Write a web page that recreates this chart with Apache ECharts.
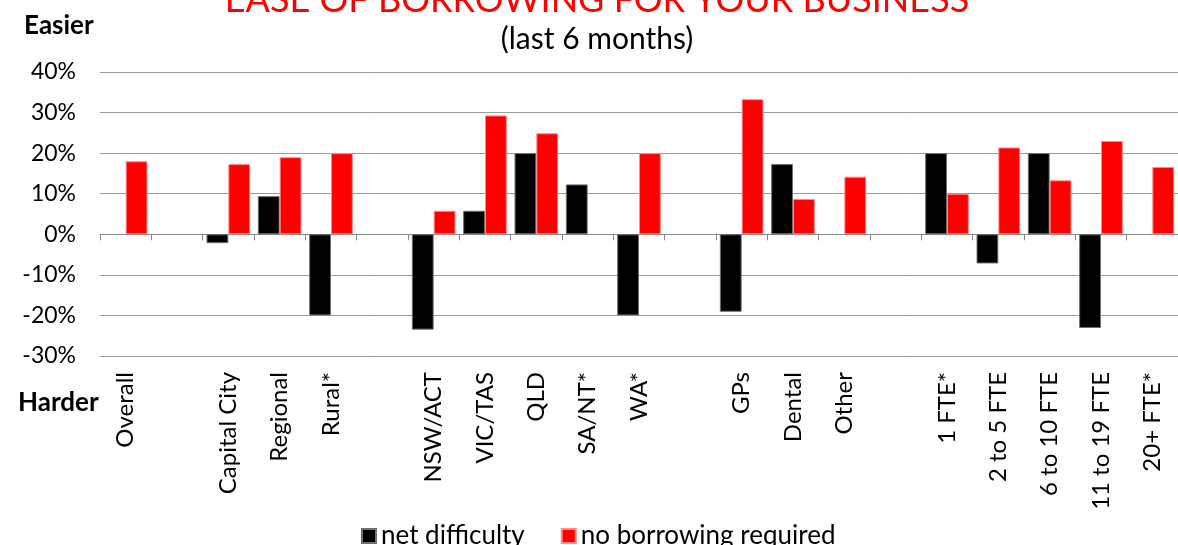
<!DOCTYPE html>
<html>
<head>
<meta charset="utf-8">
<script src="https://cdn.jsdelivr.net/npm/echarts@6/dist/echarts.min.js"></script>
<style>
  html, body { margin: 0; padding: 0; background: #fff; }
  #chart { width: 1178px; height: 545px; }
</style>
</head>
<body>
<div id="chart"></div>
<script>
// categories, empty strings are the gaps between groups
var categories = ["Overall", "", "Capital City", "Regional", "Rural*", "",
  "NSW/ACT", "VIC/TAS", "QLD", "SA/NT*", "WA*", "",
  "GPs", "Dental", "Other", "",
  "1 FTE*", "2 to 5 FTE", "6 to 10 FTE", "11 to 19 FTE", "20+ FTE*"];
var netDifficulty = [null, null, -2.2, 9.4, -20, null,
  -23.5, 5.8, 20, 12.3, -20, null,
  -19.1, 17.3, null, null,
  20, -7.2, 20, -23.1, null];
var noBorrowing = [18, null, 17.3, 19, 20, null,
  5.8, 29.3, 24.9, null, 20, null,
  33.3, 8.7, 14.2, null,
  10, 21.4, 13.3, 23, 16.6];
var yMin = -30, yMax = 40, yStep = 10;

var font = "Lato";
var myChart = echarts.init(document.getElementById("chart"));
var option = {
  animation: false,
  textStyle: { fontFamily: font },
  title: [
    {
      text: "EASE OF BORROWING FOR YOUR BUSINESS",
      left: 592, top: -23, textAlign: "center",
      textStyle: { color: "#ff0000", fontSize: 36, fontWeight: "normal", fontFamily: font }
    },
    {
      text: "(last 6 months)",
      left: 592, top: 19, textAlign: "center",
      textStyle: { color: "#000", fontSize: 30, fontWeight: "normal", fontFamily: font }
    },
    {
      text: "Easier", left: 19, top: 8,
      textStyle: { color: "#000", fontSize: 26, fontWeight: "bold", fontFamily: font }
    },
    {
      text: "Harder", left: 13, top: 385,
      textStyle: { color: "#000", fontSize: 26, fontWeight: "bold", fontFamily: font }
    }
  ],
  legend: {
    top: 518, left: 356,
    itemWidth: 14, itemHeight: 14, itemGap: 36,
    icon: "rect",
    textStyle: { fontSize: 26, color: "#000", fontFamily: font },
    data: ["net difficulty", "no borrowing required"]
  },
  grid: { left: 100, right: -6, top: 72, bottom: 189 },
  xAxis: [
    {
      type: "category",
      data: categories,
      axisLine: { onZero: true, lineStyle: { color: "#868686", width: 1 } },
      axisTick: { show: true, interval: 0, length: 6, lineStyle: { color: "#868686" } },
      axisLabel: { show: false }
    },
    {
      type: "category",
      data: categories,
      position: "bottom",
      axisLine: { show: false },
      axisTick: { show: false },
      axisLabel: { interval: 0, rotate: 90, margin: 16, fontSize: 24, color: "#000", fontFamily: font }
    }
  ],
  yAxis: {
    type: "value",
    min: yMin, max: yMax, interval: yStep,
    axisLine: { show: false },
    axisTick: { show: false },
    splitLine: { lineStyle: { color: "#9a9a9a", width: 1 } },
    axisLabel: {
      margin: 24, fontSize: 23, color: "#000", fontFamily: font,
      formatter: function (v) { return v + "%"; }
    }
  },
  series: [
    {
      name: "net difficulty",
      type: "bar",
      xAxisIndex: 0,
      barGap: "0%",
      barCategoryGap: "15%",
      itemStyle: { color: "#000", borderColor: "#6f6f6f", borderWidth: 1 },
      data: netDifficulty
    },
    {
      name: "no borrowing required",
      type: "bar",
      xAxisIndex: 0,
      barGap: "0%",
      barCategoryGap: "15%",
      itemStyle: { color: "#ff0000", borderColor: "#ff8a8a", borderWidth: 1 },
      data: noBorrowing
    }
  ]
};
option && myChart.setOption(option);
</script>
</body>
</html>
